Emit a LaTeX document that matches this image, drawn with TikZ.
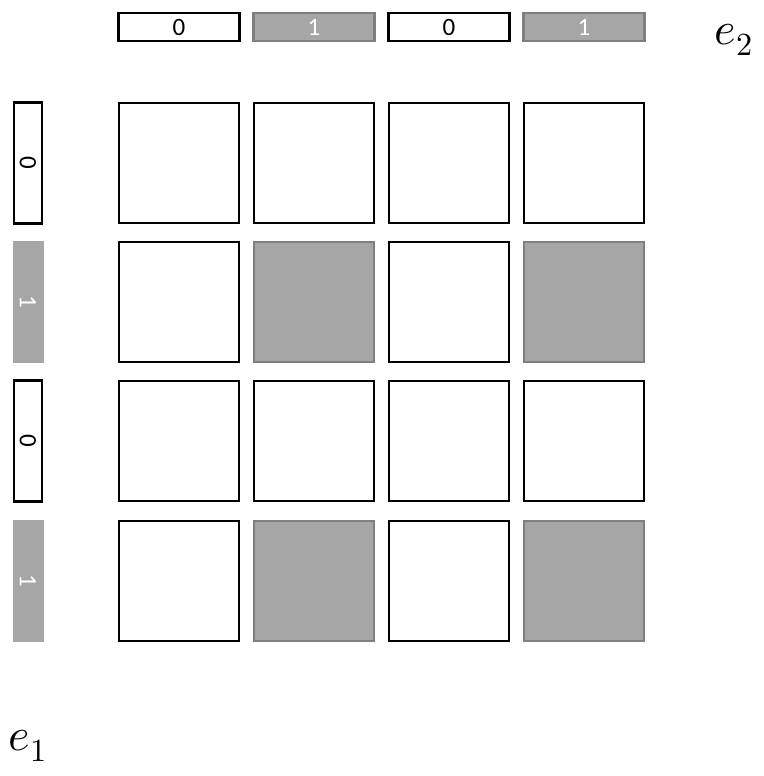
\documentclass[tikz,border=0pt]{standalone}
\usepackage{fontspec}
\usepackage{unicode-math}
\setmainfont{Carlito}
\usetikzlibrary{positioning}
\definecolor{cellgray}{HTML}{A6A6A6}
\definecolor{edgegray}{HTML}{7F7F7F}
\tikzset{
    cell/.style={rectangle, draw=black, line width=2.4pt, fill=white, minimum width=120pt, minimum height=120pt, inner sep=0pt},
    oncell/.style={cell, draw=edgegray, fill=cellgray},
    bit/.style={rectangle, draw=black, line width=2.4pt, fill=white, inner sep=0pt, font=\fontsize{25}{28}\selectfont},
    onbit/.style={bit, draw=edgegray, fill=cellgray, text=white},
    axis/.style={font=\fontsize{46}{50}\selectfont}
}

\begin{document}
\begin{tikzpicture}[x=1pt, y=-1pt]
    \useasboundingbox (0,0) rectangle (763,776);

    % top bits (e_2)
    \node (t1) [bit, minimum width=121pt, minimum height=28pt] at (179,27) {0};
    \node (t2) [onbit, minimum width=121pt, minimum height=28pt] at (314,27) {1};
    \node (t3) [bit, minimum width=121pt, minimum height=28pt] at (449,27) {0};
    \node (t4) [onbit, minimum width=121pt, minimum height=28pt] at (584,27) {1};

    % left bits (e_1)
    \node (l1) [bit, minimum width=28pt, minimum height=121pt] at (28,163) {\rotatebox{-90}{0}};
    \node (l2) [onbit, draw=none, minimum width=31pt, minimum height=122pt] at (28,302) {\rotatebox{-90}{1}};
    \node (l3) [bit, minimum width=28pt, minimum height=121pt] at (28,441) {\rotatebox{-90}{0}};
    \node (l4) [onbit, draw=none, minimum width=31pt, minimum height=122pt] at (28,581) {\rotatebox{-90}{1}};

    % grid
    \foreach \r/\y/\ra in {1/163/0, 2/302/1, 3/441/0, 4/581/1}
        \foreach \c/\x/\cb in {1/179/0, 2/314/1, 3/449/0, 4/584/1} {
            \pgfmathtruncatemacro{\on}{\ra*\cb}
            \ifnum\on=1
                \node (g\r\c) [oncell] at (\x,\y) {};
            \else
                \node (g\r\c) [cell] at (\x,\y) {};
            \fi
        }

    % axis labels
    \node (e2) [axis] at (734,40) {$e_2$};
    \node (e1) [axis] at (28,746) {$e_1$};
\end{tikzpicture}
\end{document}
